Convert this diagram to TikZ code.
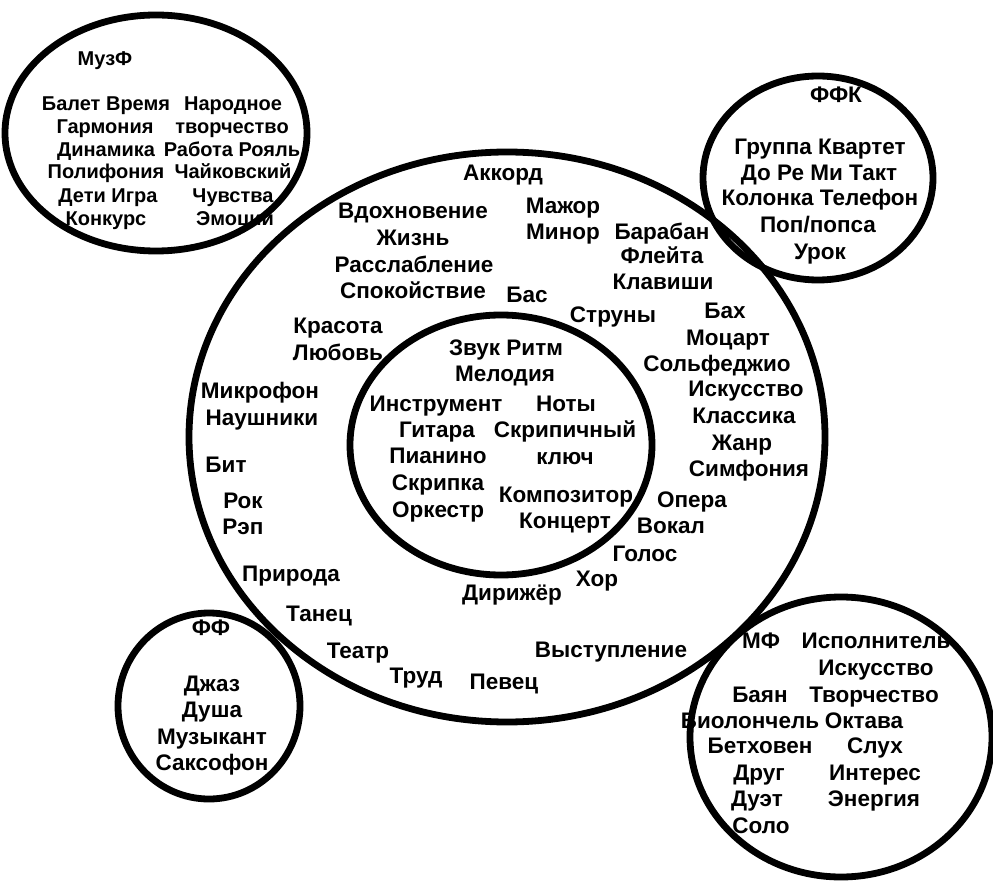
\documentclass[tikz,border=0pt]{standalone}
\usepackage{fontspec}
\setmainfont{Liberation Sans}
\usetikzlibrary{positioning}

\begin{document}
\begin{tikzpicture}[x=1pt,y=-1pt]
                                \tikzstyle{every node}=[draw=none,fill=none,inner sep=0,anchor=mid,yshift=-3pt,font=\fontsize{22.5}{26}\selectfont\bfseries]
                                \tikzstyle{small}=[font=\fontsize{20}{24}\selectfont\bfseries]
                                \tikzstyle{ring}=[line width=6.8pt]
                                \useasboundingbox (0,0) rectangle (993,882);
                                {
                                    \draw[ring] (156,133) ellipse [x radius=151,y radius=118];
                                    \draw[ring] (818,178) ellipse [x radius=115,y radius=102];
                                    \draw[ring] (507,437) ellipse [x radius=318,y radius=285];
                                    \draw[ring] (501,445) ellipse [x radius=151,y radius=130];
                                    \draw[ring] (209,706) ellipse [x radius=91,y radius=93];
                                    \draw[ring] (841,737) ellipse [x radius=151,y radius=140];

                                    \node[small] (muzf) at (105, 60) {МузФ};
                                    \node[small] (balet) at (106, 105) {Балет Время};
                                    \node[small] (narod) at (233, 105) {Народное};
                                    \node[small] (garm) at (105, 128) {Гармония};
                                    \node[small] (tvor) at (232, 128) {творчество};
                                    \node[small] (dinam) at (106, 151) {Динамика};
                                    \node[small] (rabota) at (232, 151) {Работа Рояль};
                                    \node[small] (polif) at (106, 173) {Полифония};
                                    \node[small] (chaik) at (233, 173) {Чайковский};
                                    \node[small] (deti) at (108, 197) {Дети Игра};
                                    \node[small] (chuv) at (233, 197) {Чувства};
                                    \node[small] (konk) at (106, 220) {Конкурс};
                                    \node[small] (emoc) at (235, 220) {Эмоции};

                                    \node (ffk) at (836, 97) {ФФК};
                                    \node (grup) at (820, 149) {Группа Квартет};
                                    \node (dore) at (819, 175) {До Ре Ми Такт};
                                    \node (kolon) at (820, 200) {Колонка Телефон};
                                    \node (pop) at (818, 227) {Поп/попса};
                                    \node (urok) at (820, 254) {Урок};

                                    \node (akkord) at (503, 175) {Аккорд};
                                    \node (vdoh) at (413, 213) {Вдохновение};
                                    \node (zhizn) at (413, 240) {Жизнь};
                                    \node (rassl) at (414, 267) {Расслабление};
                                    \node (spok) at (413, 293) {Спокойствие};
                                    \node (bas) at (527, 297) {Бас};
                                    \node (mazhor) at (563, 208) {Мажор};
                                    \node (minor) at (563, 234) {Минор};
                                    \node (baraban) at (662, 234) {Барабан};
                                    \node (fleita) at (662, 258) {Флейта};
                                    \node (klav) at (663, 284) {Клавиши};
                                    \node (struny) at (613, 317) {Струны};
                                    \node (bah) at (725, 313) {Бах};
                                    \node (mocart) at (728, 340) {Моцарт};
                                    \node (solf) at (717, 366) {Сольфеджио};
                                    \node (isk) at (746, 391) {Искусство};
                                    \node (klass) at (744, 418) {Классика};
                                    \node (zhanr) at (742, 445) {Жанр};
                                    \node (simf) at (749, 471) {Симфония};
                                    \node (opera) at (692, 502) {Опера};
                                    \node (vokal) at (671, 528) {Вокал};
                                    \node (golos) at (645, 556) {Голос};
                                    \node (hor) at (597, 581) {Хор};
                                    \node (dirizh) at (512, 595) {Дирижёр};
                                    \node (krasota) at (338, 328) {Красота};
                                    \node (lubov) at (338, 355) {Любовь};
                                    \node (mikro) at (260, 393) {Микрофон};
                                    \node (naush) at (262, 420) {Наушники};
                                    \node (bit) at (226, 467) {Бит};
                                    \node (rok) at (243, 503) {Рок};
                                    \node (rep) at (243, 529) {Рэп};
                                    \node (priroda) at (291, 576) {Природа};
                                    \node (tanec) at (319, 616) {Танец};
                                    \node (teatr) at (358, 653) {Театр};
                                    \node (trud) at (416, 678) {Труд};
                                    \node (pevec) at (504, 684) {Певец};
                                    \node (vyst) at (611, 652) {Выступление};

                                    \node (zvuk) at (506, 350) {Звук Ритм};
                                    \node (melod) at (505, 376) {Мелодия};
                                    \node (instr) at (436, 406) {Инструмент};
                                    \node (noty) at (566, 406) {Ноты};
                                    \node (gitara) at (437, 432) {Гитара};
                                    \node (skripich) at (565, 432) {Скрипичный};
                                    \node (pianino) at (438, 458) {Пианино};
                                    \node (kluch) at (565, 459) {ключ};
                                    \node (skripka) at (438, 485) {Скрипка};
                                    \node (kompoz) at (566, 497) {Композитор};
                                    \node (orkestr) at (438, 512) {Оркестр};
                                    \node (koncert) at (565, 523) {Концерт};

                                    \node (ff) at (211, 630) {ФФ};
                                    \node (dzhaz) at (212, 686) {Джаз};
                                    \node (dusha) at (212, 712) {Душа};
                                    \node (muzyk) at (212, 739) {Музыкант};
                                    \node (saks) at (212, 765) {Саксофон};

                                    \node (mf) at (761, 643) {МФ};
                                    \node (ispol) at (876, 643) {Исполнитель};
                                    \node (isk2) at (876, 670) {Искусство};
                                    \node (bayan) at (760, 697) {Баян};
                                    \node (tvor2) at (874, 697) {Творчество};
                                    \node (violon) at (750, 723) {Виолончель};
                                    \node (oktava) at (864, 723) {Октава};
                                    \node (bethov) at (760, 748) {Бетховен};
                                    \node (sluh) at (875, 748) {Слух};
                                    \node (drug) at (759, 775) {Друг};
                                    \node (inter) at (875, 775) {Интерес};
                                    \node (duet) at (757, 801) {Дуэт};
                                    \node (energ) at (874, 801) {Энергия};
                                    \node (solo) at (761, 828) {Соло};
                                }
                            \end{tikzpicture}
\end{document}
